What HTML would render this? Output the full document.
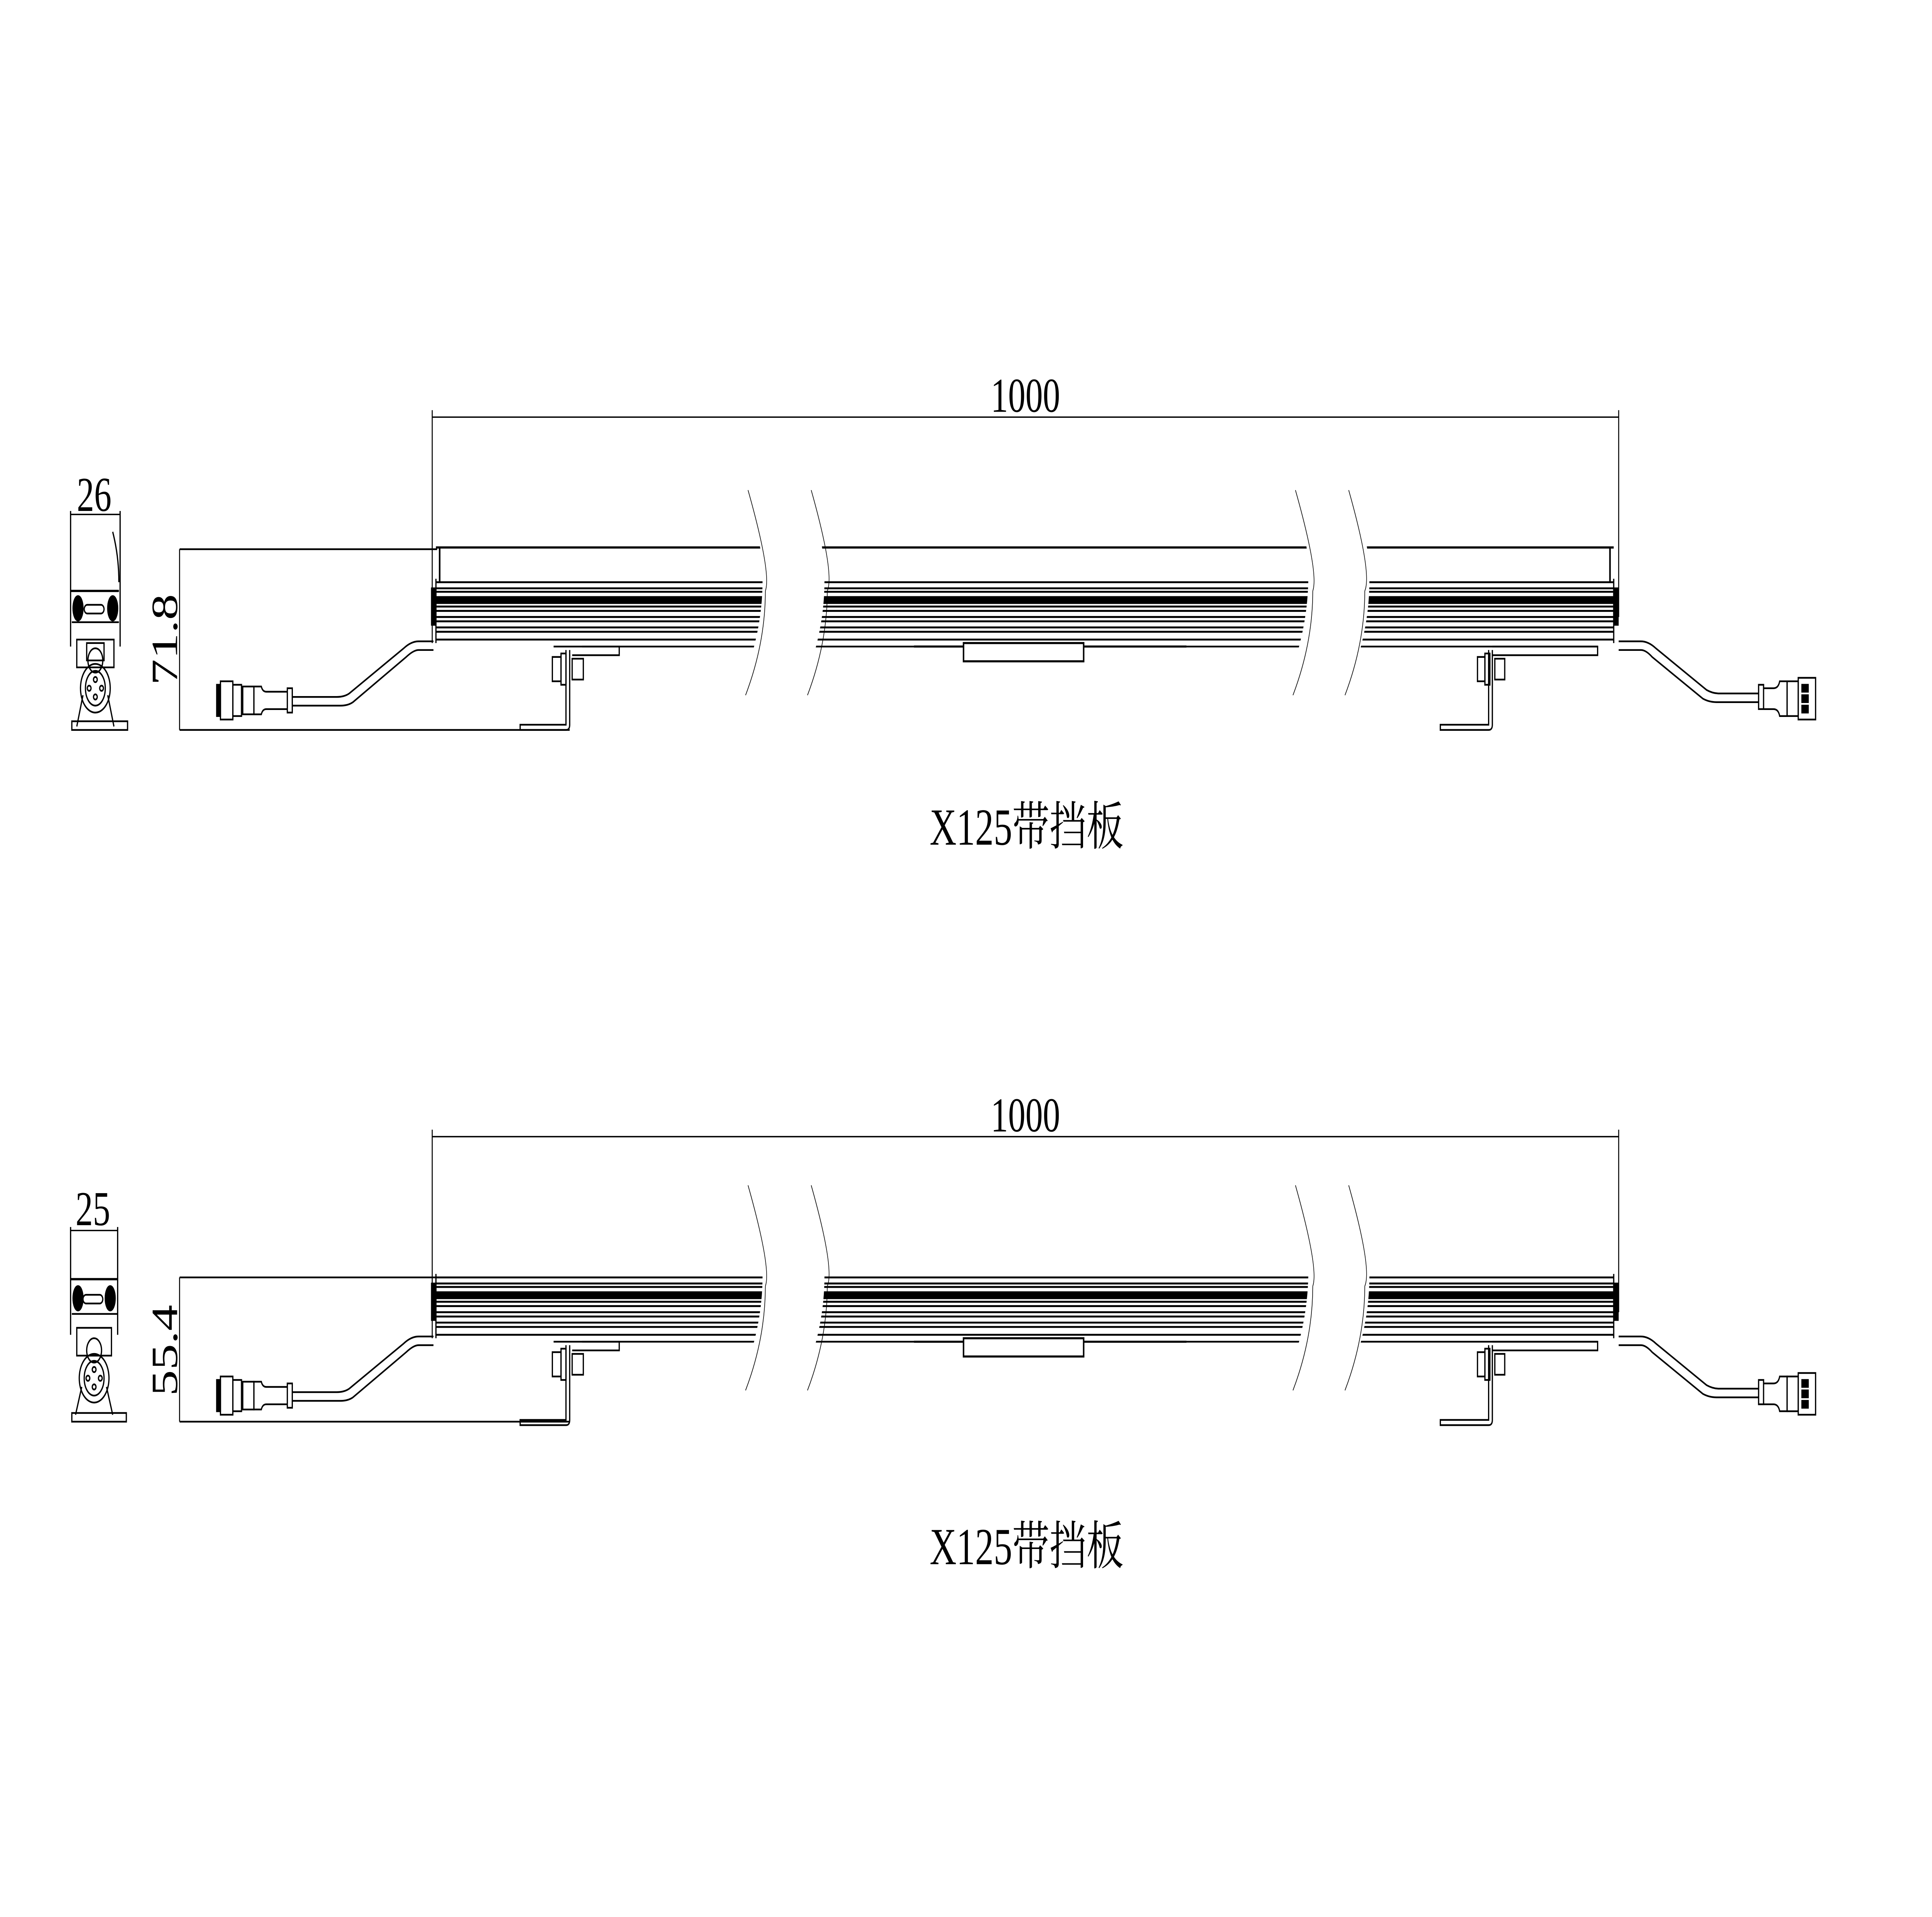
<!DOCTYPE html>
<html><head><meta charset="utf-8"><style>
html,body{margin:0;padding:0;background:#fff;width:100vw;height:100vh;overflow:hidden;}
svg{display:block;position:absolute;left:0;top:0;width:100vw;height:100vh;}
text{font-family:"Liberation Serif","Noto Serif CJK SC",serif;fill:#000;}
</style></head><body>
<svg viewBox="0 0 1560 1103" preserveAspectRatio="none" xmlns="http://www.w3.org/2000/svg">
<defs>
<g id="bar" fill="none" stroke="#000" stroke-width="1">
  <g stroke-width="1.1">
    <line x1="352" y1="335" x2="1303" y2="335"/>
    <line x1="352" y1="338.5" x2="1303" y2="338.5"/>
    <line x1="352" y1="340.5" x2="1303" y2="340.5"/>
    <line x1="352" y1="349" x2="1303" y2="349"/>
    <line x1="352" y1="351.5" x2="1303" y2="351.5"/>
    <line x1="352" y1="355" x2="1303" y2="355"/>
    <line x1="352" y1="357.5" x2="1303" y2="357.5"/>
    <line x1="352" y1="361" x2="1303" y2="361"/>
    <line x1="352" y1="363.5" x2="1303" y2="363.5"/>
    <line x1="352" y1="368" x2="1303" y2="368"/>
  </g>
  <rect x="352" y="343" width="951" height="4.5" fill="#000" stroke="none"/>
  <line x1="352" y1="333" x2="352" y2="370"/>
  <line x1="1303" y1="333" x2="1303" y2="370"/>
  <rect x="348" y="338" width="4" height="22" fill="#000" stroke="none"/>
  <rect x="1303" y="338" width="4" height="22" fill="#000" stroke="none"/>
  <line x1="470" y1="372" x2="1290" y2="372"/>
  <line x1="738" y1="372" x2="958" y2="372" stroke-width="1.2"/>
  <rect x="778" y="370" width="97" height="10.5" fill="#fff" stroke-width="1.2"/>
  <path d="M447 372 L500 372 L500 377 L462 377"/>
  <path d="M460 374 L460 417 Q460 420 457 420 L420 420 L420 417 L457 417 L457 374"/>
  <rect x="446" y="378" width="7" height="14"/>
  <rect x="453" y="376" width="4" height="18"/>
  <rect x="462" y="379" width="9" height="12"/>
  <path d="M1205 372 L1290 372 L1290 377 L1205 377"/>
  <path d="M1205 374 L1205 417 Q1205 420 1202 420 L1163 420 L1163 417 L1202 417 L1202 374"/>
  <rect x="1193" y="378" width="6" height="14"/>
  <rect x="1199" y="376" width="4" height="18"/>
  <rect x="1207" y="379" width="8" height="12"/>
  <path d="M350 369 L338 369 Q332 369 326 373 L282 399 Q278 401 272 401 L236 401"/>
  <path d="M350 374 L338 374 Q334 374 328 378 L285 404 Q281 406 275 406 L236 406"/>
  <rect x="232" y="396" width="4" height="14"/>
  <path d="M232 398 L215 398 Q212 398 211 395 L205 395 L205 411 L211 411 Q212 408 215 408 L232 408"/>
  <rect x="196" y="395" width="9" height="16"/>
  <rect x="188" y="394" width="7" height="18"/>
  <rect x="178" y="392" width="10" height="22"/>
  <rect x="175" y="394" width="3" height="18" fill="#000"/>
  <path d="M1307 369 L1325 369 Q1331 369 1337 373 L1378 397 Q1383 399 1388 399 L1420 399"/>
  <path d="M1307 374 L1325 374 Q1329 374 1334 378 L1375 402 Q1380 404 1386 404 L1420 404"/>
  <rect x="1420" y="394" width="4" height="14"/>
  <path d="M1424 396 L1432 396 Q1436 396 1437 392 L1443 392 L1443 412 L1437 412 Q1436 408 1432 408 L1424 408"/>
  <rect x="1443" y="392" width="9" height="20"/>
  <rect x="1452" y="390" width="14" height="24"/>
  <rect x="1455" y="394" width="5" height="4" fill="#000"/>
  <rect x="1455" y="400" width="5" height="4" fill="#000"/>
  <rect x="1455" y="406" width="5" height="4" fill="#000"/>
</g>
<g id="breaks">
  <path d="M608 296 L658 296 Q676 340 652 388 L602 388 Q626 340 608 296Z" fill="#fff"/>
  <path d="M1050 296 L1098 296 Q1116 340 1092 388 L1042 388 Q1066 340 1050 296Z" fill="#fff"/>
  <g fill="none" stroke="#000" stroke-width="0.5">
    <path d="M604 282 Q623 330 618 340"/><path d="M618 340 Q618 370 602 400"/>
    <path d="M655 282 Q674 330 668 340"/><path d="M668 340 Q668 370 652 400"/>
    <path d="M1046 282 Q1065 330 1060 340"/><path d="M1060 340 Q1060 370 1044 400"/>
    <path d="M1089 282 Q1108 330 1102 340"/><path d="M1102 340 Q1102 370 1086 400"/>
  </g>
</g>
</defs>

<g fill="none" stroke="#000" stroke-width="0.8">
  <line x1="349" y1="240" x2="1307" y2="240"/>
  <line x1="349" y1="236" x2="349" y2="370"/>
  <line x1="1307" y1="236" x2="1307" y2="355"/>
  <line x1="145" y1="316" x2="353" y2="316" stroke-width="1"/>
  <line x1="145" y1="420" x2="460" y2="420" stroke-width="1"/>
  <line x1="145" y1="316" x2="145" y2="420"/>
</g>
<text x="828" y="237" font-size="28" text-anchor="middle">1000</text>
<text transform="translate(143,368) rotate(-90)" font-size="30" text-anchor="middle">71.8</text>
<g fill="none" stroke="#000" stroke-width="1.3">
  <line x1="352" y1="315" x2="1303" y2="315"/>
  <line x1="355" y1="315" x2="355" y2="335"/>
  <line x1="1300" y1="315" x2="1300" y2="335"/>
</g>
<use href="#bar"/>
<use href="#breaks"/>
<g fill="none" stroke="#000" stroke-width="1">
  <line x1="57" y1="296" x2="97" y2="296" stroke-width="0.8"/>
  <line x1="57" y1="294" x2="57" y2="372"/>
  <line x1="97" y1="294" x2="97" y2="372"/>
  <path d="M91 306 Q96 320 96 335"/>
  <line x1="57" y1="340" x2="96" y2="340" stroke-width="1.3"/>
  <line x1="58" y1="358" x2="96" y2="358"/>
  <ellipse cx="63" cy="350" rx="4" ry="7" fill="#000"/>
  <ellipse cx="91" cy="350" rx="4" ry="7" fill="#000"/>
  <rect x="68" y="348" width="16" height="5" rx="2.5"/>
  <rect x="62" y="368" width="30" height="16"/>
  <rect x="70" y="370" width="14" height="10"/>
  <ellipse cx="77" cy="380" rx="6" ry="7"/>
  <ellipse cx="77" cy="396" rx="12" ry="14"/>
  <ellipse cx="77" cy="396" rx="8" ry="10"/>
  <circle cx="77" cy="391" r="1.5"/><circle cx="72" cy="396" r="1.5"/><circle cx="82" cy="396" r="1.5"/><circle cx="77" cy="401" r="1.5"/>
  <path d="M67 400 L62 418 M87 400 L92 418"/>
  <rect x="58" y="415" width="45" height="5"/>
</g>
<text x="76" y="294" font-size="28" text-anchor="middle">26</text>
<text x="829" y="486" font-size="30" text-anchor="middle">X125带挡板</text>

<g transform="translate(0,400)">
  <g fill="none" stroke="#000" stroke-width="0.8">
    <line x1="349" y1="254" x2="1307" y2="254"/>
    <line x1="349" y1="250" x2="349" y2="370"/>
    <line x1="1307" y1="250" x2="1307" y2="355"/>
    <line x1="145" y1="335" x2="353" y2="335" stroke-width="1"/>
    <line x1="145" y1="418" x2="460" y2="418" stroke-width="1"/>
    <line x1="145" y1="335" x2="145" y2="418"/>
  </g>
  <text x="828" y="251" font-size="28" text-anchor="middle">1000</text>
  <use href="#bar"/>
  <use href="#breaks"/>
  <g fill="none" stroke="#000" stroke-width="1">
    <line x1="57" y1="308" x2="95" y2="308" stroke-width="0.8"/>
    <line x1="57" y1="306" x2="57" y2="368"/>
    <line x1="95" y1="306" x2="95" y2="368"/>
    <line x1="57" y1="336" x2="95" y2="336" stroke-width="1.3"/>
    <line x1="58" y1="356" x2="95" y2="356"/>
    <ellipse cx="63" cy="347" rx="4" ry="7" fill="#000"/>
    <ellipse cx="89" cy="347" rx="4" ry="7" fill="#000"/>
    <rect x="67" y="345" width="16" height="5" rx="2.5"/>
    <rect x="62" y="364" width="28" height="16"/>
    <ellipse cx="76" cy="377" rx="6" ry="7"/>
    <ellipse cx="76" cy="393" rx="12" ry="14"/>
    <ellipse cx="76" cy="393" rx="8" ry="10"/>
    <circle cx="76" cy="388" r="1.5"/><circle cx="71" cy="393" r="1.5"/><circle cx="81" cy="393" r="1.5"/><circle cx="76" cy="398" r="1.5"/>
    <path d="M66 398 L61 414 M86 398 L91 414"/>
    <rect x="58" y="413" width="44" height="5"/>
  </g>
  <text x="75" y="305" font-size="28" text-anchor="middle">25</text>
  <text transform="translate(143,377) rotate(-90)" font-size="30" text-anchor="middle">55.4</text>
  <text x="829" y="500" font-size="30" text-anchor="middle">X125带挡板</text>
</g>
</svg>
</body></html>
